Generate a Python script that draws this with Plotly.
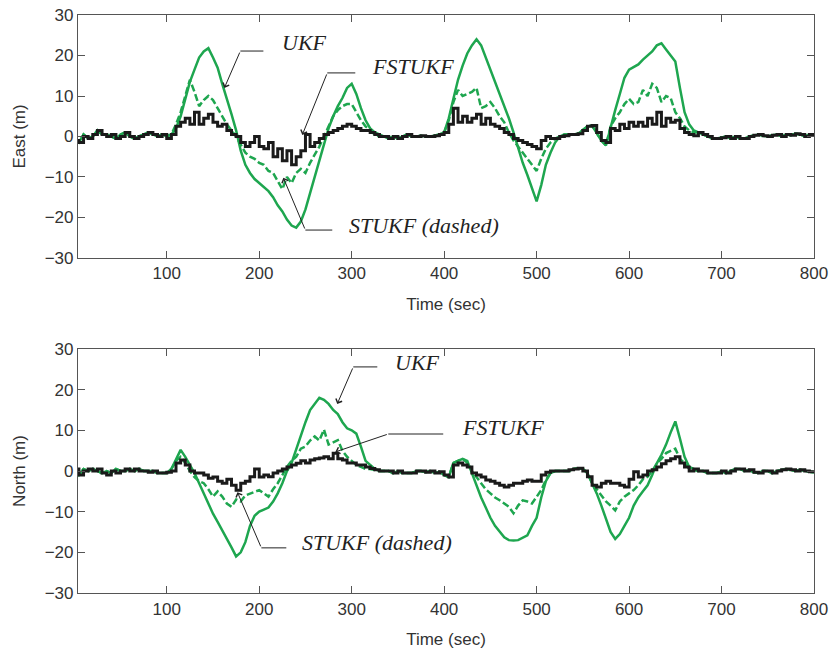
import plotly.graph_objects as go
from plotly.subplots import make_subplots

time_sec = list(range(0, 801, 5))

east_ukf = [
    -1.0, -1.5, 0.5, -0.5, 0.0, 1.5, 0.5, 0.5, 0.0, -0.5,
    0.5, 1.0, 0.0, -0.5, 0.0, 0.5, 1.0, 0.5, 0.0, 0.5,
    0.0, 0.5, 2.0, 5.0, 9.5, 13.5, 16.5, 19.5, 21.0, 21.8,
    19.5, 17.0, 13.0, 9.5, 5.5, 1.5, -3.5, -7.0, -9.0, -10.5,
    -11.5, -12.5, -13.5, -15.0, -17.0, -18.5, -20.5, -22.0, -22.5, -21.0,
    -18.0, -14.0, -10.0, -6.0, -2.0, 2.0, 5.0, 7.5, 9.5, 12.0,
    13.0, 10.5, 7.0, 4.0, 2.0, 1.0, 0.5, 0.0, -0.5, 0.0,
    -0.5, 0.0, 0.5, 0.0, 0.0, 0.2, 0.0, 0.0, 0.2, 0.5,
    1.0, 4.5, 9.3, 14.0, 17.5, 20.5, 22.5, 24.0, 22.5, 19.5,
    17.0, 14.0, 11.0, 8.0, 4.5, 1.0, -3.0, -6.5, -9.5, -13.0,
    -16.0, -12.0, -7.0, -4.0, -1.5, 0.0, 0.5, 0.5, 0.5, 0.7,
    1.5, 2.5, 2.7, 1.0, -1.0, -2.2, 2.5, 6.5, 10.5, 14.5,
    16.5, 17.2, 17.8, 19.0, 20.0, 21.0, 22.5, 23.0, 21.5, 20.0,
    18.5, 12.0, 6.0, 3.0, 1.5, 1.0, 0.5, 0.0, -0.5, -0.5,
    -0.3, 0.0, -0.5, 0.0, -0.5, -0.5, 0.0, 0.3, 0.5, 0.2,
    0.0, 0.3, 0.5, 0.0, 0.5, 0.3, 0.7, 0.5, 0.0, 0.5,
    0.5,
]

east_stukf = [
    -1.0, -1.5, 0.5, -0.5, 0.0, 1.5, 0.5, 0.5, 0.0, -0.5,
    0.5, 1.0, 0.0, -0.5, 0.0, 0.5, 1.0, 0.5, 0.0, 0.5,
    0.0, 0.5, 3.0, 6.0, 10.0, 14.0, 11.0, 7.5, 9.0, 10.0,
    9.0, 7.0, 5.0, 3.0, 1.5, 0.0, -2.0, -4.0, -5.0, -5.5,
    -6.5, -7.0, -8.5, -9.0, -11.0, -13.0, -10.0, -11.5, -9.0, -8.0,
    -9.0, -6.5, -4.5, -2.5, 0.0, 2.5, 5.0, 6.5, 7.5, 8.0,
    8.0, 6.0, 4.0, 2.5, 1.5, 0.5, 0.0, 0.0, -0.5, 0.0,
    -0.5, 0.0, 0.5, 0.0, 0.0, 0.2, 0.0, 0.0, 0.2, 0.5,
    1.0, 4.0, 8.5, 11.5, 10.0, 10.5, 11.0, 12.0, 7.0, 7.5,
    8.5, 7.0, 5.0, 3.5, 1.0, -1.0, -2.5, -4.0, -5.5, -7.0,
    -8.5, -5.5, -3.0, -1.5, -0.5, 0.0, 0.5, 0.5, 0.5, 0.7,
    1.5, 2.5, 2.7, 1.0, -1.0, -2.2, 2.5, 4.5, 6.0, 8.0,
    9.3, 8.0, 8.5, 11.5, 10.0, 13.0, 12.0, 8.5, 10.0, 9.5,
    6.0, 4.5, 2.5, 1.5, 1.0, 1.0, 0.5, 0.0, -0.5, -0.5,
    -0.3, 0.0, -0.5, 0.0, -0.5, -0.5, 0.0, 0.3, 0.5, 0.2,
    0.0, 0.3, 0.5, 0.0, 0.5, 0.3, 0.7, 0.5, 0.0, 0.5,
    0.5,
]

east_fstukf = [
    -1.0, -1.5, 0.0, -0.5, 0.5, 1.5, 0.5, 0.0, 0.5, -0.5,
    0.0, 1.0, 0.0, -0.5, 0.0, 0.5, 1.0, 0.5, 0.0, 0.5,
    -0.5, 0.5, 2.5, 3.5, 4.5, 3.0, 6.0, 3.0, 4.5, 5.5,
    3.5, 2.5, 3.0, 1.5, 0.5, 0.0, -1.5, -2.5, -1.5, 0.0,
    -2.5, -3.0, -1.5, -5.0, -3.0, -6.0, -3.5, -7.0, -5.0, -3.5,
    0.5, -2.5, -1.5, -0.5, 0.5, 1.0, 1.5, 2.0, 2.5, 3.0,
    2.5, 2.0, 1.5, 1.5, 1.0, 0.5, 0.0, 0.0, -0.5, 0.0,
    -0.5, 0.0, 0.5, 0.0, 0.0, 0.2, 0.0, 0.0, 0.2, 0.5,
    1.0, 3.0, 7.0, 3.5, 5.0, 3.5, 4.5, 5.5, 3.0, 4.5,
    3.0, 2.5, 2.0, 1.0, 0.5, -0.5, -1.0, -1.5, -2.0, -2.5,
    -3.0, -1.0, 0.0, -0.5, -0.5, 0.0, 0.2, 0.5, 0.5, 0.7,
    1.5, 2.5, 2.7, 1.0, -1.0, -1.5, 2.0, 1.5, 3.0, 2.0,
    3.5, 2.5, 3.5, 2.5, 4.5, 3.0, 6.0, 2.5, 4.5, 3.5,
    4.0, 2.0, 1.0, 0.5, 0.2, 1.0, 0.5, 0.0, -0.5, -0.5,
    -0.3, 0.0, -0.5, 0.0, -0.5, -0.5, 0.0, 0.3, 0.5, 0.2,
    0.0, 0.3, 0.5, 0.0, 0.5, 0.3, 0.7, 0.5, 0.0, 0.5,
    0.5,
]

north_ukf = [
    0.5, -1.0, 0.5, 0.0, 0.5, 0.0, -0.5, 0.0, -0.5, 0.5,
    0.0, 0.0, 0.5, 0.0, 0.5, 0.0, 0.0, 0.0, -0.5, -0.5,
    -0.5, 0.5, 3.0, 5.2, 3.5, 1.5, -0.5, -3.0, -5.5, -8.0,
    -10.5, -12.5, -14.5, -16.5, -18.8, -21.0, -20.0, -17.5, -13.5, -11.0,
    -10.0, -9.5, -9.0, -7.5, -5.5, -3.0, 0.0, 2.0, 5.5, 9.0,
    12.0, 15.0, 16.5, 18.0, 17.5, 16.5, 15.0, 14.0, 12.0, 10.5,
    10.0, 9.2, 6.0, 2.5, 1.5, 0.5, 0.0, 0.0, 0.0, -0.5,
    0.0, -0.5, -0.5, -0.5, 0.0, 0.0, -0.3, 0.0, -0.5, -0.2,
    -1.0, -1.5, 2.0, 2.5, 3.0, 2.5, -0.5, -4.0, -6.5, -9.0,
    -11.5, -13.5, -15.0, -16.3, -17.0, -17.1, -17.0, -16.5, -15.8, -13.5,
    -11.5, -6.5, -2.5, -0.5, 0.0, 0.0, 0.0, 0.0, 0.5, 0.7,
    0.5, -0.5, -3.0, -5.5, -8.5, -12.0, -15.0, -16.7, -15.5, -13.5,
    -11.5, -8.5, -6.5, -5.0, -3.5, -1.0, 1.9, 4.0, 6.5, 9.5,
    12.2, 8.0, 3.5, 1.0, 0.5, 0.0, 0.0, -0.5, -0.5, -0.5,
    0.0, -0.5, 0.0, 0.5, 0.5, 0.0, 0.3, -0.3, -0.5, 0.0,
    0.0, -0.5, 0.0, 0.3, 0.5, 0.3, 0.0, 0.3, 0.0, -0.2,
    -0.3,
]

north_stukf = [
    0.5, -1.0, 0.5, 0.0, 0.5, 0.0, -0.5, 0.0, -0.5, 0.5,
    0.0, 0.0, 0.5, 0.0, 0.5, 0.0, 0.0, 0.0, -0.5, -0.5,
    -0.5, 0.5, 2.5, 3.5, 2.0, 0.0, -1.5, -2.5, -3.0, -4.5,
    -6.3, -5.0, -6.3, -8.0, -8.8, -7.0, -7.5, -6.0, -5.5, -5.0,
    -4.7, -5.5, -6.3, -4.5, -3.0, -1.0, 1.0, 2.5, 3.5, 5.5,
    6.0, 7.5, 8.5, 7.5, 10.2, 6.5, 7.0, 7.6, 5.0, 3.5,
    2.5, 1.5, 1.0, 0.5, 0.5, 0.2, 0.0, 0.0, 0.0, -0.5,
    0.0, -0.5, -0.5, -0.5, 0.0, 0.0, -0.3, 0.0, -0.5, -0.2,
    -1.0, -1.5, 2.0, 2.5, 3.0, 2.0, 0.0, -1.5, -3.0, -4.5,
    -5.5, -6.5, -7.2, -8.0, -8.8, -10.4, -8.5, -7.2, -7.5, -8.0,
    -6.5, -4.7, -2.2, -0.5, 0.0, 0.0, 0.0, 0.0, 0.5, 0.7,
    0.5, -0.5, -3.0, -4.5, -6.3, -7.5, -8.5, -9.7, -7.5, -6.3,
    -5.5, -4.7, -3.5, -2.0, -1.4, 0.0, 1.9, 3.0, 4.4, 5.0,
    5.5, 3.0, 1.9, 0.5, 0.3, 0.0, 0.0, -0.5, -0.5, -0.5,
    0.0, -0.5, 0.0, 0.5, 0.5, 0.0, 0.3, -0.3, -0.5, 0.0,
    0.0, -0.5, 0.0, 0.3, 0.5, 0.3, 0.0, 0.3, 0.0, -0.2,
    -0.3,
]

north_fstukf = [
    0.5, -1.0, 0.0, 0.5, 0.0, 0.5, -0.5, -1.0, 0.0, -0.5,
    0.0, 0.5, 0.0, 0.5, 0.0, 0.0, -0.3, 0.0, -0.5, -0.5,
    -0.3, 0.0, 2.0, 2.7, 1.5, 0.0, -0.5, -0.5, -1.0, -1.8,
    -1.5, -2.5, -3.0, -2.0, -3.5, -4.7, -3.0, -2.5, -1.4, 0.5,
    -1.5, -1.0, -1.4, -0.5, 0.0, 0.5, 1.0, 1.5, 1.9, 2.5,
    2.0, 2.7, 3.0, 3.2, 3.5, 3.0, 4.4, 3.0, 2.7, 2.0,
    2.0, 1.5, 1.5, 1.0, 0.6, 0.3, 0.0, 0.0, 0.0, -0.5,
    0.0, -0.5, -0.5, -0.5, 0.0, 0.0, -0.3, 0.0, -0.5, -0.2,
    -1.0, -1.5, 1.5, 2.0, 1.5, 1.0, -0.5, -1.0, -1.5, -2.2,
    -2.5, -3.0, -3.5, -3.9, -3.5, -3.0, -3.0, -2.5, -2.2, -2.5,
    -2.5, -1.0, -0.3, 0.0, 0.0, 0.0, 0.0, 0.3, 0.5, 0.7,
    0.0, -1.4, -3.5, -3.9, -3.0, -2.5, -3.0, -3.0, -3.5, -3.9,
    -2.0, -0.2, -1.5, -1.0, 0.0, 0.3, 1.0, 1.8, 2.5, 3.0,
    3.5, 2.0, 1.0, 0.0, 0.5, 0.0, 0.0, -0.5, -0.5, -0.5,
    0.0, -0.5, 0.0, 0.5, 0.5, 0.0, 0.3, -0.3, -0.5, 0.0,
    0.0, -0.5, 0.0, 0.3, 0.5, 0.3, 0.0, 0.3, 0.0, -0.2,
    -0.3,
]

x_ticks = [100, 200, 300, 400, 500, 600, 700, 800]
y_ticks = [-30, -20, -10, 0, 10, 20, 30]
y_titles = ["East (m)", "North (m)"]
x_title = "Time (sec)"

GREEN = "#1ea64f"
BLACK = "#1a1a1a"
FRAME = "#555555"

fig = make_subplots(rows=2, cols=1)

for row, (ukf, stukf, fst) in enumerate(
    [(east_ukf, east_stukf, east_fstukf), (north_ukf, north_stukf, north_fstukf)], start=1
):
    fig.add_trace(go.Scatter(x=time_sec, y=ukf, mode="lines",
                             line=dict(color=GREEN, width=2.5), name="UKF"), row=row, col=1)
    fig.add_trace(go.Scatter(x=time_sec, y=stukf, mode="lines",
                             line=dict(color=GREEN, width=2.5, dash="7px,3px"), name="STUKF"), row=row, col=1)
    fig.add_trace(go.Scatter(x=time_sec, y=fst, mode="lines", line_shape="hv",
                             line=dict(color=BLACK, width=3), name="FSTUKF"), row=row, col=1)

axis_font = dict(family="Liberation Sans, Arial, sans-serif", size=17, color="#333333")
for row in (1, 2):
    fig.update_xaxes(range=[4, 800], tickvals=x_ticks, ticks="inside", ticklen=7,
                     tickcolor=FRAME, showline=True, linecolor=FRAME, linewidth=1.2,
                     mirror="allticks", showgrid=False, zeroline=False, automargin=False,
                     tickfont=axis_font, title=dict(text=x_title, font=axis_font, standoff=15),
                     row=row, col=1)
    fig.update_yaxes(range=[-30, 30], tickvals=y_ticks, ticks="inside", ticklen=7,
                     tickcolor=FRAME, showline=True, linecolor=FRAME, linewidth=1.2,
                     mirror="allticks", showgrid=False, zeroline=False, automargin=False,
                     tickfont=axis_font, title=dict(text=y_titles[row - 1], font=axis_font, standoff=14),
                     row=row, col=1)

fig.update_layout(
    width=833, height=658,
    margin=dict(l=78, r=19, t=15, b=65),
    paper_bgcolor="white", plot_bgcolor="white",
    showlegend=False,
    yaxis=dict(domain=[0.5796, 1.0]),
    yaxis2=dict(domain=[0.0, 0.4221]),
)

label_font = dict(family="Liberation Serif, Times New Roman, serif", size=22, color="#222222")

# (axis suffix, label text, text x, text y, corner x, corner y, line end x, arrow tip x, tip y)
labels = [
    ("", "UKF", 223, 23.1, 179.6, 21.1, 204.5, 162.3, 12.0),
    ("", "FSTUKF", 320, 17.2, 273.6, 15.7, 303.9, 246.6, 0.4),
    ("", "STUKF (dashed)", 295, -21.9, 249.9, -23.1, 279.0, 226.1, -10.2),
    ("2", "UKF", 345, 26.8, 301.7, 25.6, 327.7, 284.4, 16.5),
    ("2", "FSTUKF", 417, 10.6, 339.6, 9.1, 399.0, 282.3, 4.7),
    ("2", "STUKF (dashed)", 244.5, -17.5, 202.3, -18.9, 229.3, 176.4, -5.2),
]

for ax, text, tx, ty, cx, cy, ex, px, py in labels:
    xr, yr = "x" + ax, "y" + ax
    fig.add_annotation(x=tx, y=ty, xref=xr, yref=yr, text="<i>" + text + "</i>",
                       showarrow=False, xanchor="left", yanchor="middle", font=label_font)
    fig.add_shape(type="line", x0=cx, y0=cy, x1=ex, y1=cy, xref=xr, yref=yr,
                  line=dict(color="#222222", width=1))
    fig.add_annotation(x=px, y=py, xref=xr, yref=yr, ax=cx, ay=cy, axref=xr, ayref=yr,
                       text="", showarrow=True, arrowhead=4, arrowsize=1.3,
                       arrowwidth=1, arrowcolor="#222222")

fig.write_html("out.html", config={"displayModeBar": False},
               post_script="document.body.style.margin='0';")
